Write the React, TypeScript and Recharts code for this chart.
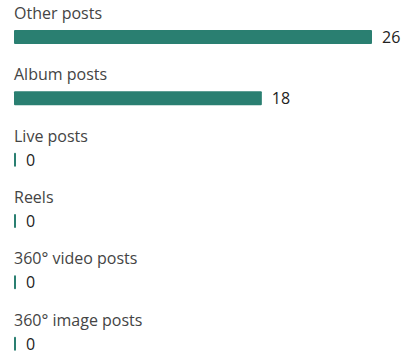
import React from 'react';
import { BarChart, Bar, XAxis, YAxis, LabelList } from 'recharts';

const categories = ['Other posts', 'Album posts', 'Live posts', 'Reels', '360° video posts', '360° image posts'];
const postCounts = [26, 18, 0, 0, 0, 0];

const BAR_COLOR = '#2a7f71';
const FONT = '"Open Sans", "Noto Sans", sans-serif';

const chartData = categories.map((name, i) => ({ name, value: postCounts[i] }));

// category name sits above each bar
const renderCategoryLabel = (props: any) => {
  const { x, y, value } = props;
  return (
    <text x={x} y={y - 11} fill="#444" fontSize={16} fontFamily={FONT}>
      {value}
    </text>
  );
};

const renderValueLabel = (props: any) => {
  const { x, y, width, height, value } = props;
  return (
    <text
      x={x + width + 10}
      y={y + height / 2}
      fill="#222"
      fontSize={16}
      fontFamily={FONT}
      dominantBaseline="central"
    >
      {value}
    </text>
  );
};

const App: React.FC = () => {
  return (
    <div style={{ position: 'absolute', top: 0, left: 0, width: 412, height: 358, overflow: 'hidden', background: '#fff' }}>
      <BarChart
        width={412}
        height={374}
        data={chartData}
        layout="vertical"
        margin={{ top: 6, right: 40, bottom: 0, left: 14 }}
        barCategoryGap={0}
      >
        <XAxis type="number" domain={[0, 26]} hide />
        <YAxis type="category" dataKey="name" hide />
        <Bar
          dataKey="value"
          fill={BAR_COLOR}
          barSize={14}
          minPointSize={2}
          radius={1}
          isAnimationActive={false}
        >
          <LabelList dataKey="name" content={renderCategoryLabel} />
          <LabelList dataKey="value" content={renderValueLabel} />
        </Bar>
      </BarChart>
    </div>
  );
};

export default App;
